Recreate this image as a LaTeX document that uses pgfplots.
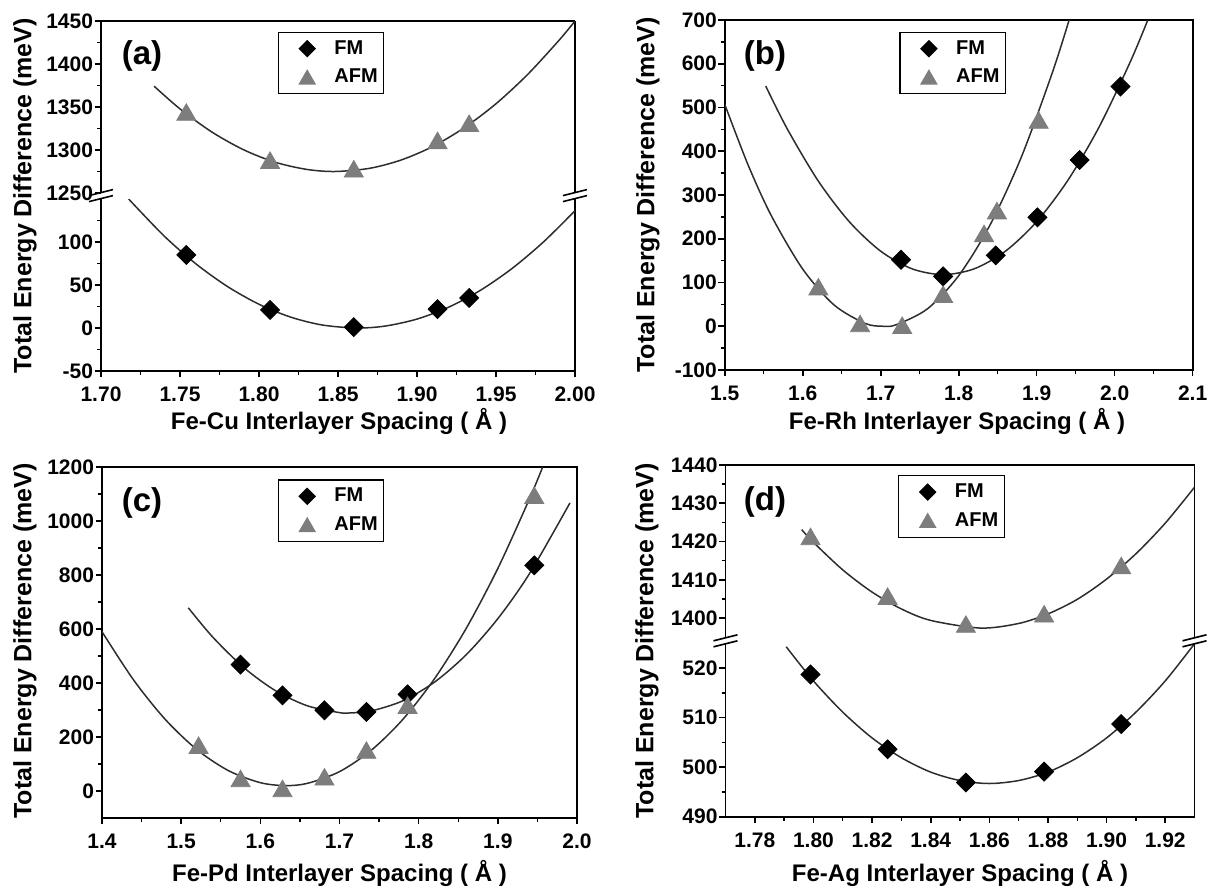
\documentclass[border=0pt]{standalone}
\usepackage{fontspec}
\setmainfont{Liberation Sans}
\usepackage{pgfplots}
\pgfplotsset{compat=1.18}

\definecolor{afmgray}{RGB}{125,125,125}
\definecolor{fitline}{RGB}{45,45,45}

% 1 px of the reference = 0.5pt
\pgfplotsset{
  legend image code/.code={\path (0pt,0pt) (24.5pt,0pt); \draw[#1] plot coordinates {(13.2pt,0pt)};},
  panel/.style={
    scale only axis,
    axis line style={line width=0.9pt, black},
    major tick length=3.2pt,
    minor tick length=2pt,
    every major tick/.append style={line width=0.8pt, black},
    every minor tick/.append style={line width=0.7pt, black},
    tick label style={font=\fontsize{10.5}{12}\selectfont\bfseries},
    /pgf/number format/assume math mode=true,
    /pgf/number format/1000 sep={},
    yticklabel style={inner xsep=0.6pt},
    xticklabel style={inner ysep=4.5pt},
    legend cell align=left,
    legend style={draw=black, line width=0.6pt, anchor=north west,
      inner xsep=1pt, inner ysep=2pt, row sep=2pt,
      font=\fontsize{10}{12}\selectfont\bfseries},
  },
  single/.style={panel, tick pos=left, tick align=outside},
  upper/.style={panel, axis x line*=top, axis y line*=box, xtick=\empty,
    ytick pos=left, tick align=outside},
  lower/.style={panel, axis x line*=bottom, axis y line*=box,
    xtick pos=bottom, ytick pos=left, tick align=outside},
  fit/.style={fitline, line width=0.75pt, smooth, no marks, forget plot},
  fm/.style={only marks, mark=square*, mark size=3.35pt,
    mark options={rotate=45, fill=black, draw=black}, forget plot},
  afm/.style={only marks, mark=triangle*, mark size=5.5pt,
    mark options={fill=afmgray, draw=afmgray, yshift=-1.3pt}, forget plot},
  fmkey/.style={only marks, mark=square*, mark size=2.8pt,
    mark options={rotate=45, fill=black, draw=black}},
  afmkey/.style={only marks, mark=triangle*, mark size=4.5pt,
    mark options={fill=afmgray, draw=afmgray, yshift=-1pt}},
}

\begin{document}
\begin{tikzpicture}
\useasboundingbox (0pt,0pt) rectangle (609pt,-444.5pt);

% ---------------- (a) Fe-Cu, broken y axis ----------------
\begin{axis}[upper, at={(50.5pt,-10.5pt)}, anchor=north west,
  width=237pt, height=86pt,
  xmin=1.7, xmax=2.0, ymin=1250, ymax=1450,
  ytick={1250,1300,1350,1400,1450}, minor y tick num=1,
  legend style={at={(0.3726,0.938)}}]
  \addlegendimage{fmkey}\addlegendentry{FM}
  \addlegendimage{afmkey}\addlegendentry{AFM}
  \addplot[fit] coordinates {
    (1.7336,1374.2) (1.75,1347.8) (1.77,1321.1) (1.79,1300.5) (1.81,1285.9)
    (1.83,1277.5) (1.848,1275) (1.87,1278.7) (1.89,1288.4) (1.91,1304.1)
    (1.93,1326) (1.95,1353.8) (1.97,1387.8) (1.99,1427.8) (2.00,1450)};
  \addplot[afm] coordinates {
    (1.754,1344) (1.807,1288) (1.860,1278) (1.913,1311) (1.933,1331)};
\end{axis}

\begin{axis}[lower, at={(50.5pt,-99.5pt)}, anchor=north west,
  width=237pt, height=86pt,
  xmin=1.7, xmax=2.0, ymin=-50, ymax=150,
  xtick={1.70,1.75,1.80,1.85,1.90,1.95,2.00},
  xticklabels={1.70,1.75,1.80,1.85,1.90,1.95,2.00},
  minor x tick num=1,
  ytick={-50,0,50,100}, minor ytick={-25,25,75,125}]
  \addplot[fit] coordinates {
    (1.7175,150) (1.74,106.9) (1.76,74.7) (1.78,48.3) (1.80,27.6)
    (1.82,12.7) (1.84,3.5) (1.862,0) (1.88,2.3) (1.90,10.4)
    (1.92,24.2) (1.94,43.7) (1.96,69.0) (1.98,100.0) (2.00,136.4)};
  \addplot[fm] coordinates {
    (1.754,85) (1.807,21) (1.860,1) (1.913,22) (1.933,35)};
\end{axis}

% ---------------- (b) Fe-Rh ----------------
\begin{axis}[single, at={(362.4pt,-10pt)}, anchor=north west,
  width=233.9pt, height=175pt,
  xmin=1.5, xmax=2.1, ymin=-100, ymax=700,
  xtick={1.5,1.6,1.7,1.8,1.9,2.0,2.1},
  xticklabels={1.5,1.6,1.7,1.8,1.9,2.0,2.1},
  minor x tick num=1,
  ytick={-100,0,...,700}, minor y tick num=1,
  legend style={at={(0.373,0.9666)}}]
  \addlegendimage{fmkey}\addlegendentry{FM}
  \addlegendimage{afmkey}\addlegendentry{AFM}
  \addplot[fit] coordinates {
    (1.5525,548.9) (1.58,451.4) (1.62,331.6) (1.66,238.3) (1.70,171.5)
    (1.74,131.4) (1.78,118) (1.82,131.4) (1.86,171.7) (1.90,239.1)
    (1.94,333.6) (1.98,455.2) (2.02,604.2) (2.0425,700)};
  \addplot[fit] coordinates {
    (1.50,506.9) (1.53,368.1) (1.56,251.5) (1.60,130.5) (1.64,48.8)
    (1.68,6.5) (1.703,0) (1.72,3.6) (1.76,40.0) (1.80,115.7)
    (1.84,230.9) (1.88,385.3) (1.92,579.2) (1.9416,700)};
  \addplot[fm] coordinates {
    (1.726,152) (1.780,114) (1.8475,162) (1.901,249) (1.955,380) (2.0075,548)};
  \addplot[afm] coordinates {
    (1.620,90) (1.6735,6) (1.7275,2) (1.780,73) (1.8325,212) (1.849,264) (1.9025,471)};
\end{axis}

% ---------------- (c) Fe-Pd ----------------
\begin{axis}[single, at={(51pt,-233.5pt)}, anchor=north west,
  width=237.5pt, height=175.5pt,
  xmin=1.4, xmax=2.0, ymin=-100, ymax=1200,
  xtick={1.4,1.5,1.6,1.7,1.8,1.9,2.0},
  xticklabels={1.4,1.5,1.6,1.7,1.8,1.9,2.0},
  minor x tick num=1,
  ytick={0,200,...,1200}, minor ytick={100,300,...,1100},
  legend style={at={(0.3697,0.965)}}]
  \addlegendimage{fmkey}\addlegendentry{FM}
  \addlegendimage{afmkey}\addlegendentry{AFM}
  \addplot[fit] coordinates {
    (1.509,678.7) (1.54,569.7) (1.58,455.1) (1.62,370.0) (1.66,315.0)
    (1.70,290.4) (1.712,289) (1.74,296.6) (1.78,334.1) (1.82,403.3)
    (1.86,504.6) (1.90,638.4) (1.94,805.3) (1.9911,1067)};
  \addplot[fit] coordinates {
    (1.40,590) (1.44,410.8) (1.48,264.9) (1.52,153) (1.56,75)
    (1.60,30.9) (1.632,20) (1.66,28.8) (1.70,71.8) (1.74,150.6)
    (1.78,265.3) (1.82,415.9) (1.86,602.2) (1.90,824.4) (1.94,1082.5) (1.9566,1200)};
  \addplot[fm] coordinates {
    (1.575,468) (1.628,354) (1.681,299) (1.734,293) (1.786,358) (1.946,836)};
  \addplot[afm] coordinates {
    (1.522,169) (1.575,46) (1.628,9) (1.681,52) (1.734,151) (1.786,317) (1.946,1095)};
\end{axis}

% ---------------- (d) Fe-Ag, broken y axis ----------------
\begin{axis}[upper, at={(362.75pt,-232.5pt)}, anchor=north west,
  width=234.5pt, height=86.5pt,
  xmin=1.77, xmax=1.93, ymin=1394.8, ymax=1440,
  ytick={1400,1410,1420,1430,1440}, minor y tick num=1,
  legend style={at={(0.368,0.942)}}]
  \addlegendimage{fmkey}\addlegendentry{FM}
  \addlegendimage{afmkey}\addlegendentry{AFM}
  \addplot[fit] coordinates {
    (1.796,1423.1) (1.80,1419.8) (1.81,1412.6) (1.82,1406.8) (1.83,1402.4)
    (1.84,1399.4) (1.857,1397.4) (1.87,1398.6) (1.88,1401.1) (1.89,1404.9)
    (1.90,1410.2) (1.91,1416.8) (1.92,1424.8) (1.93,1434.2)};
  \addplot[afm] coordinates {
    (1.799,1421.3) (1.8253,1405.7) (1.852,1398.4) (1.8787,1401.1) (1.905,1413.7)};
\end{axis}

\begin{axis}[lower, at={(362.75pt,-322pt)}, anchor=north west,
  width=234.5pt, height=86.35pt,
  xmin=1.77, xmax=1.93, ymin=490, ymax=524.85,
  xtick={1.78,1.80,1.82,1.84,1.86,1.88,1.90,1.92},
  xticklabels={1.78,1.80,1.82,1.84,1.86,1.88,1.90,1.92},
  minor x tick num=1,
  ytick={490,500,510,520}, minor y tick num=1]
  \addplot[fit] coordinates {
    (1.7907,524.3) (1.80,517.4) (1.81,511.1) (1.82,505.9) (1.83,501.9)
    (1.84,499.0) (1.85,497.3) (1.86,496.7) (1.87,497.3) (1.88,499.0)
    (1.89,501.9) (1.90,505.9) (1.91,511.1) (1.92,517.4) (1.93,524.9)};
  \addplot[fm] coordinates {
    (1.799,518.7) (1.8253,503.6) (1.852,496.9) (1.8787,499.1) (1.905,508.7)};
\end{axis}

% axis breaks
\begin{scope}[line width=0.8pt]
  \foreach \x in {50.5,287.5} {
    \draw (\x pt-6pt,-97.8pt) -- (\x pt+6pt,-94.8pt);
    \draw (\x pt-6pt,-100.8pt) -- (\x pt+6pt,-97.8pt);
  }
  \foreach \x in {362.75,597.25} {
    \draw (\x pt-6pt,-320.4pt) -- (\x pt+6pt,-317.4pt);
    \draw (\x pt-6pt,-323.4pt) -- (\x pt+6pt,-320.4pt);
  }
\end{scope}

% panel letters
\begin{scope}[font=\fontsize{16.5}{18}\selectfont\bfseries]
  \node at (71pt,-28pt) {(a)};
  \node at (382.5pt,-28pt) {(b)};
  \node at (71pt,-251.5pt) {(c)};
  \node at (382.5pt,-251pt) {(d)};
\end{scope}

% axis titles
\begin{scope}[font=\fontsize{12.5}{15}\selectfont\bfseries]
  \node[rotate=90] at (12.5pt,-98pt) {Total Energy Difference (meV)};
  \node[rotate=90] at (324pt,-97.5pt) {Total Energy Difference (meV)};
  \node[rotate=90] at (12.5pt,-320.5pt) {Total Energy Difference (meV)};
  \node[rotate=90] at (323.5pt,-320.5pt) {Total Energy Difference (meV)};
\end{scope}
\begin{scope}[font=\fontsize{12}{14}\selectfont\bfseries]
  \node at (169.5pt,-210.5pt) {Fe-Cu Interlayer Spacing ( Å )};
  \node at (478.5pt,-210.5pt) {Fe-Rh Interlayer Spacing ( Å )};
  \node at (169.75pt,-436.5pt) {Fe-Pd Interlayer Spacing ( Å )};
  \node at (480pt,-436.5pt) {Fe-Ag Interlayer Spacing ( Å )};
\end{scope}
\end{tikzpicture}
\end{document}
